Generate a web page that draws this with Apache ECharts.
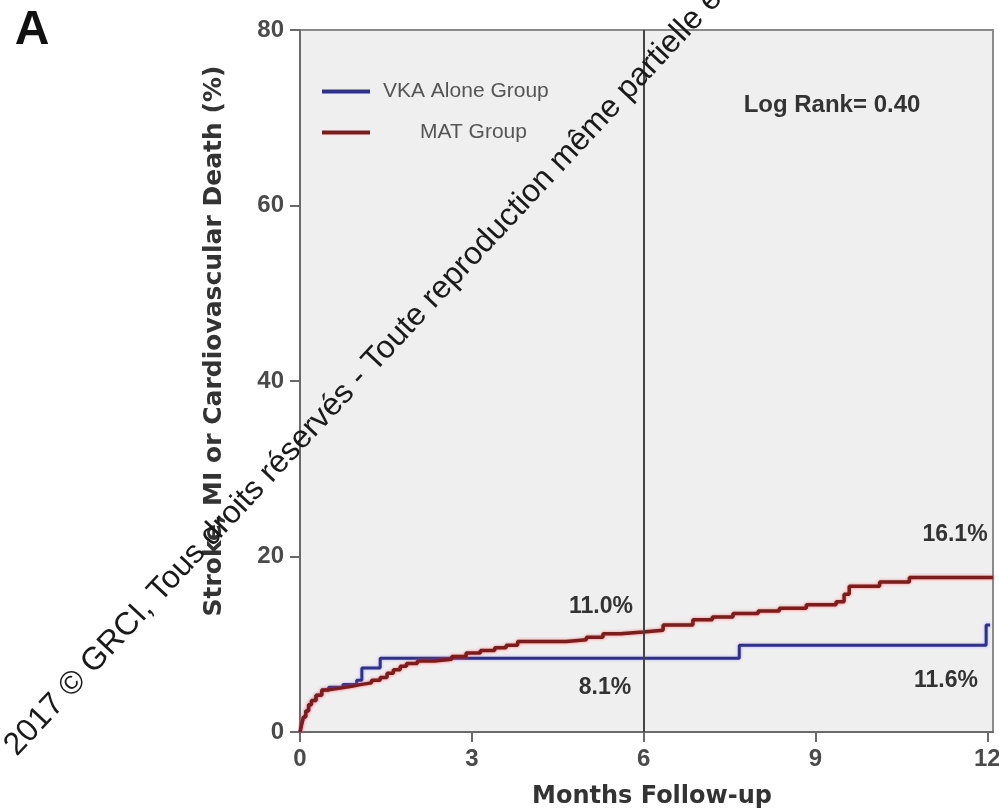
<!DOCTYPE html>
<html>
<head>
<meta charset="utf-8">
<script src="https://cdn.jsdelivr.net/npm/echarts@6/dist/echarts.min.js"></script>
<style>
html,body{margin:0;padding:0;background:#fff;}
#chart{width:999px;height:809px;}
</style>
</head>
<body>
<div id="chart"></div>
<script>
// ---- data (months, cumulative %) ----
var vkaMonths = [0,0.03,0.06,0.1,0.15,0.2,0.28,0.38,0.5,0.75,0.99,1.08,1.40,7.67,11.98,12.05];
var vkaValues = [0,0.9,1.7,2.4,3.1,3.6,4.2,4.8,5.1,5.4,5.9,7.3,8.4,9.9,12.2,12.2];
var matMonths = [0,0.03,0.06,0.1,0.15,0.2,0.28,0.38,0.5,0.7,0.9,1.05,1.25,1.4,1.52,1.63,1.75,1.86,2.05,2.35,2.65,2.9,3.15,3.4,3.6,3.8,4.65,5.0,5.29,5.6,5.99,6.34,6.86,7.2,7.56,8.0,8.37,8.84,9.36,9.5,9.59,10.12,10.64,12.1];
var matValues = [0,0.9,1.7,2.4,3.1,3.6,4.2,4.8,5.0,5.2,5.4,5.6,5.9,6.2,6.7,7.1,7.5,7.8,8.1,8.3,8.6,9.0,9.3,9.6,9.9,10.3,10.5,10.8,11.2,11.4,11.6,12.2,12.8,13.1,13.5,13.8,14.1,14.5,14.85,15.7,16.6,17.1,17.6,17.6];
var seriesNames = ['VKA Alone Group','MAT Group'];
var xTicks = [0,3,6,9,12];
var yTicks = [0,20,40,60,80];
var splitMonth = 6;
var xTitle = 'Months Follow-up';
var yTitle = 'Stroke, MI or Cardiovascular Death (%)';
var logRankText = 'Log Rank= 0.40';
var pctLabels = ['11.0%','8.1%','16.1%','11.6%'];
var watermark = '2017 © GRCI, Tous droits réservés - Toute reproduction même partielle est interdite';

function pairs(xs, ys){ return xs.map(function(x,i){ return [x, ys[i]]; }); }

var FONT = '"Liberation Sans", Arial, sans-serif';
var TFONT = '"DejaVu Sans", sans-serif';
var chart = echarts.init(document.getElementById('chart'));
chart.setOption({
  animation:false,
  backgroundColor:'#ffffff',
  grid:{left:300,right:6,top:30,bottom:77,containLabel:false,outerBoundsMode:'none',
        show:true,backgroundColor:'#efefef',borderColor:'#8a8a8a',borderWidth:2},
  legend:{
    orient:'vertical',left:317,top:76,itemWidth:48,itemHeight:4,itemGap:20,icon:'rect',
    data:seriesNames,
    formatter:function(n){ return n===seriesNames[1] ? '{b|'+n+'}' : '{a|'+n+'}'; },
    textStyle:{fontFamily:FONT,fontSize:21,color:'#555',lineHeight:21,
      rich:{a:{fontFamily:FONT,fontSize:21,color:'#555',lineHeight:21,padding:[0,0,0,8]},
            b:{fontFamily:FONT,fontSize:21,color:'#555',lineHeight:21,padding:[0,0,0,45]}}}
  },
  xAxis:{
    type:'value',min:0,max:12.1,interval:3,
    axisLine:{show:true,lineStyle:{color:'#6a6a6a',width:2}},
    axisTick:{show:true,length:10,customValues:xTicks,lineStyle:{color:'#6a6a6a',width:2}},
    axisLabel:{margin:15,fontFamily:FONT,fontSize:24,fontWeight:'bold',color:'#4a4a4a',customValues:xTicks},
    splitLine:{show:false}
  },
  yAxis:{
    type:'value',min:0,max:80,interval:20,
    axisLine:{show:true,lineStyle:{color:'#6a6a6a',width:2}},
    axisTick:{show:true,length:10,lineStyle:{color:'#6a6a6a',width:2}},
    axisLabel:{margin:16,fontFamily:FONT,fontSize:24,fontWeight:'bold',color:'#4a4a4a',
      formatter:function(v){ return yTicks.indexOf(v)>=0 ? String(v) : ''; }},
    splitLine:{show:false}
  },
  series:[
    {name:seriesNames[0],type:'line',step:'end',symbol:'none',
     data:pairs(vkaMonths,vkaValues),
     itemStyle:{color:'#2f2f8f'},
     lineStyle:{color:'#2f2f8f',width:3,shadowColor:'rgba(120,120,255,0.5)',shadowBlur:3},
     z:2},
    {name:seriesNames[1],type:'line',step:'end',symbol:'none',
     data:pairs(matMonths,matValues),
     itemStyle:{color:'#7e1b1b'},
     lineStyle:{color:'#7e1b1b',width:3.5,shadowColor:'rgba(255,70,70,0.7)',shadowBlur:3},
     z:3,
     markLine:{symbol:'none',silent:true,label:{show:false},
       lineStyle:{color:'#444',width:2,type:'solid'},
       data:[{xAxis:splitMonth}]}}
  ],
  graphic:[
    {type:'text',x:32,y:31,style:{text:'A',font:'bold 48px '+FONT,fill:'#111',textAlign:'center',textVerticalAlign:'middle'}},
    {type:'text',x:652,y:797,style:{text:xTitle,font:'bold 24px '+TFONT,fill:'#333',textAlign:'center',textVerticalAlign:'middle'}},
    {type:'text',x:214,y:341,rotation:Math.PI/2,style:{text:yTitle,font:'bold 25px '+TFONT,fill:'#333',textAlign:'center',textVerticalAlign:'middle'}},
    {type:'text',x:832,y:105,style:{text:logRankText,font:'bold 24px '+FONT,fill:'#333',textAlign:'center',textVerticalAlign:'middle'}},
    {type:'text',x:601,y:607,style:{text:pctLabels[0],font:'bold 23px '+FONT,fill:'#333',textAlign:'center',textVerticalAlign:'middle'}},
    {type:'text',x:605,y:688,style:{text:pctLabels[1],font:'bold 23px '+FONT,fill:'#333',textAlign:'center',textVerticalAlign:'middle'}},
    {type:'text',x:955,y:535,style:{text:pctLabels[2],font:'bold 23px '+FONT,fill:'#333',textAlign:'center',textVerticalAlign:'middle'}},
    {type:'text',x:946,y:681,style:{text:pctLabels[3],font:'bold 23px '+FONT,fill:'#333',textAlign:'center',textVerticalAlign:'middle'}},
    {type:'text',x:22,y:762,rotation:47*Math.PI/180,z:100,
     style:{text:watermark,font:'32px '+FONT,fill:'#1a1a1a',textAlign:'left',textVerticalAlign:'bottom'}}
  ]
});
</script>
</body>
</html>
